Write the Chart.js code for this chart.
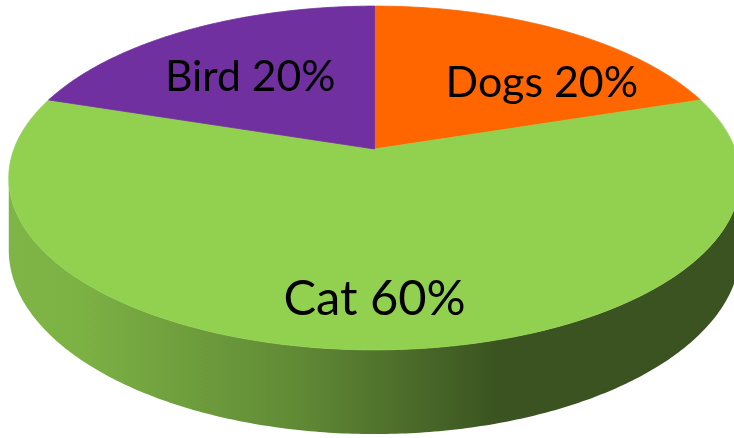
<!DOCTYPE html>
<html>
<head>
<meta charset="utf-8">
<script src="https://cdn.jsdelivr.net/npm/chart.js@4/dist/chart.umd.min.js"></script>
<style>
html,body{margin:0;padding:0;background:#fff}
#wrap{width:734px;height:438px;overflow:hidden}
</style>
</head>
<body>
<div id="wrap"><canvas id="chart" width="734" height="438"></canvas></div>
<script>

const labels=["Dogs","Cat","Bird"]
const values=[20,60,20]
const colors=["#FF6600","#92D050","#7030A0"]


// tilted disc seen in perspective
// screen = centre + (k*u , m*v + drop) / (1 - e*v)   with u=cos a, v=sin a
const view={cx:374.5,cy:149,k:360.5,m:167,e:0.1686,depth:70}


function project(u,v,drop){
let w=1-view.e*v
return {x:view.cx+view.k*u/w, y:view.cy+(view.m*v+(drop||0))/w, w:w}
}


function shade(hex,f){
let n=parseInt(hex.slice(1),16)
let r=Math.round(((n>>16)&255)*f)
let g=Math.round(((n>>8)&255)*f)
let b=Math.round((n&255)*f)
return `rgb(${r},${g},${b})`
}


function rimPath(ctx,a0,a1,drop,first){
let steps=Math.max(8,Math.ceil(Math.abs(a1-a0)*90))
for(let i=0;i<=steps;i++){
let a=a0+(a1-a0)*i/steps
let p=project(Math.cos(a),Math.sin(a),drop)
if(i==0 && first) ctx.moveTo(p.x,p.y)
else ctx.lineTo(p.x,p.y)
}
}


const disc3d={

id:"disc3d",

beforeDatasetsDraw(chart){

let ctx=chart.ctx
let arcs=chart.getDatasetMeta(0).data

// side wall: only the part facing us (sin a > e)
let lo=Math.asin(view.e)
let hi=Math.PI-lo
let left=project(Math.cos(hi),Math.sin(hi)).x
let right=project(Math.cos(lo),Math.sin(lo)).x

arcs.forEach((arc,i)=>{

let s=Math.max(arc.startAngle,lo)
let t=Math.min(arc.endAngle,hi)
if(s>=t) return

let col=arc.options.backgroundColor
let grad=ctx.createLinearGradient(left,0,right,0)
grad.addColorStop(0,shade(col,0.87))
grad.addColorStop(0.1,shade(col,0.85))
grad.addColorStop(0.4,shade(col,0.66))
grad.addColorStop(0.67,shade(col,0.40))
grad.addColorStop(1,shade(col,0.40))

ctx.save()
ctx.beginPath()
rimPath(ctx,s,t,0,true)
rimPath(ctx,t,s,view.depth,false)
ctx.closePath()
ctx.fillStyle=grad
ctx.fill()
ctx.restore()

})

// top face
arcs.forEach(arc=>{

let col=arc.options.backgroundColor
let c=project(0,0)

ctx.save()
ctx.beginPath()
ctx.moveTo(c.x,c.y)
rimPath(ctx,arc.startAngle,arc.endAngle,0,false)
ctx.closePath()
ctx.fillStyle=col
ctx.strokeStyle=col
ctx.lineWidth=0.8
ctx.fill()
ctx.stroke()
ctx.restore()

})

return false

},

afterDraw(chart,args,opts){

let ctx=chart.ctx
let arcs=chart.getDatasetMeta(0).data
let total=values.reduce((a,b)=>a+b,0)

arcs.forEach((arc,i)=>{

let spot=opts.spots[i]
let a=(arc.startAngle+arc.endAngle)/2+spot.turn*Math.PI/180
let p=project(Math.cos(a)*spot.r,Math.sin(a)*spot.r)
// nearer text a little larger
let size=opts.size/Math.pow(p.w,0.61)

ctx.save()
ctx.font=`${size.toFixed(1)}px ${opts.family}`
ctx.fillStyle="#000"
ctx.textAlign="center"
ctx.textBaseline="alphabetic"
ctx.fillText(`${labels[i]} ${Math.round(values[i]/total*100)}%`,p.x,p.y+size*opts.cap/2)
ctx.restore()

})

}

}


new Chart(document.getElementById("chart"),{

type:"pie",

data:{
labels:labels,
datasets:[{
data:values,
backgroundColor:colors,
borderWidth:0
}]
},

options:{
responsive:false,
animation:false,
events:[],
plugins:{
legend:{display:false},
tooltip:{enabled:false},
disc3d:{
family:"Lato",
size:44.8,
cap:0.72,
spots:[{turn:13,r:0.66},{turn:0,r:0.775},{turn:-2,r:0.605}]
}
}
},

plugins:[disc3d]

})

</script>
</body>
</html>
